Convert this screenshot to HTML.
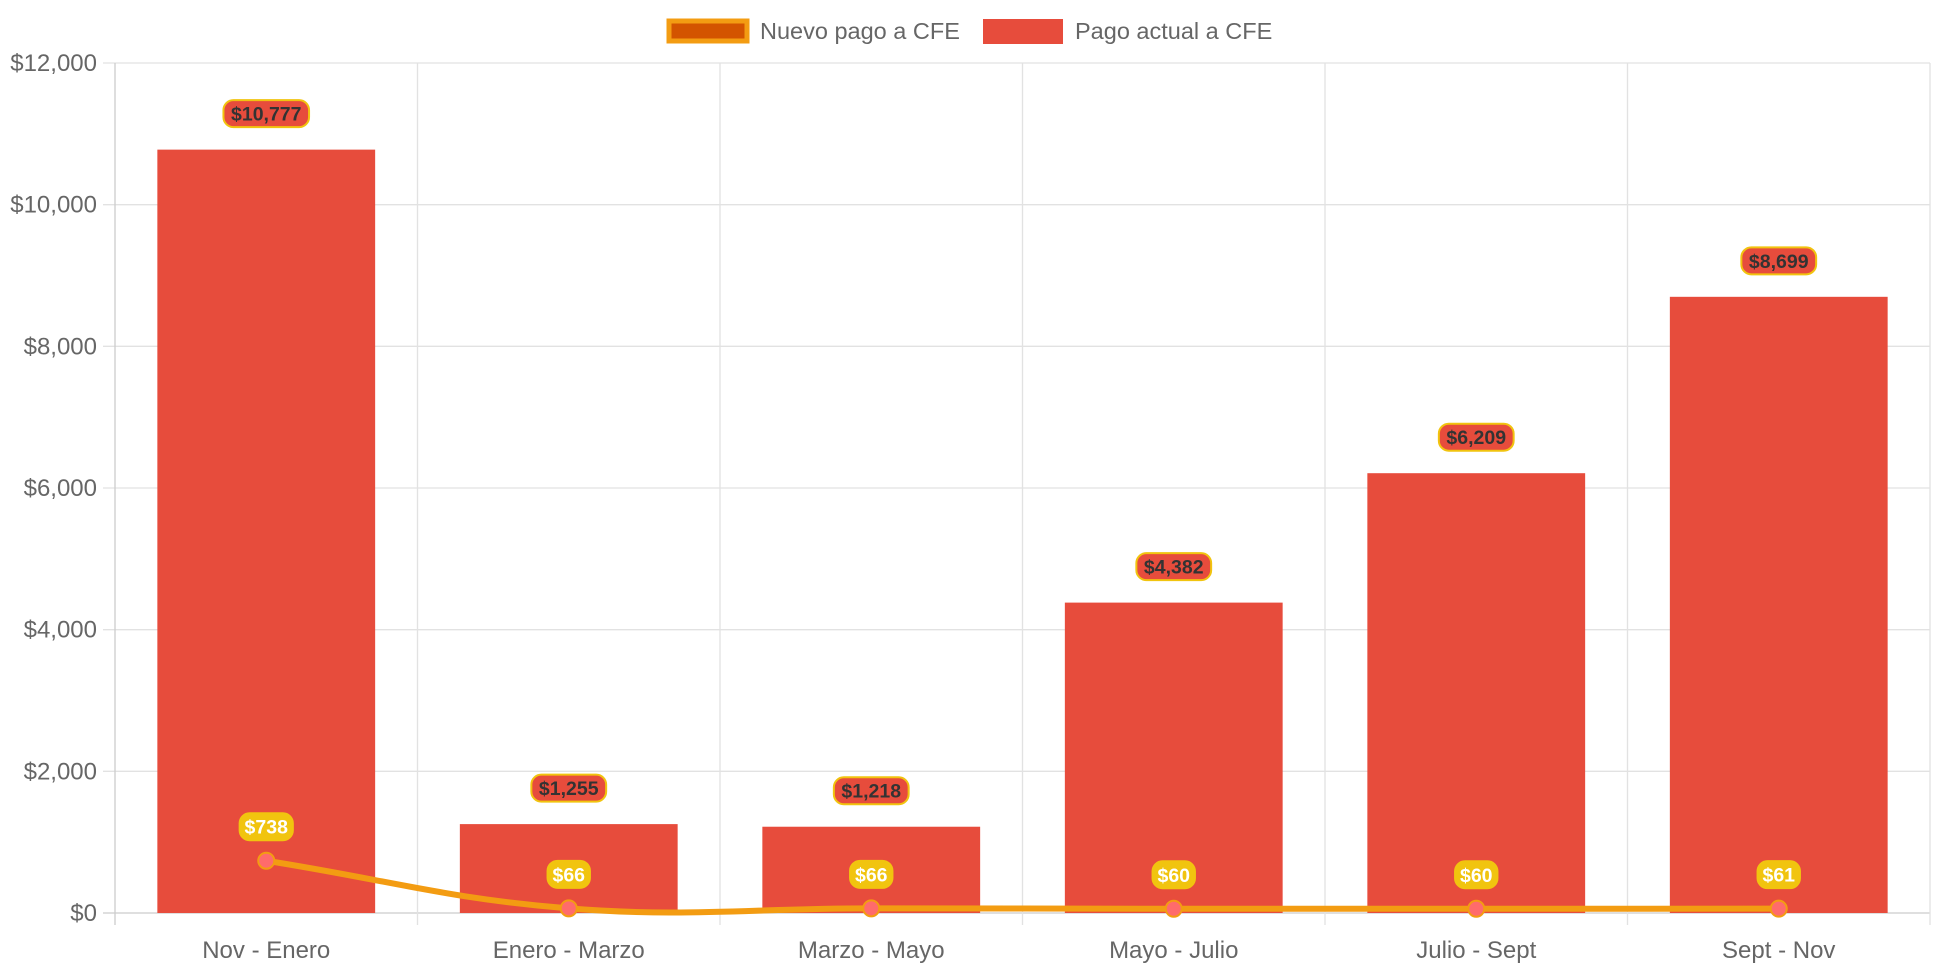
<!DOCTYPE html>
<html><head><meta charset="utf-8"><style>
html,body{margin:0;padding:0;background:#fff;}
svg{display:block;font-family:"Liberation Sans",Arial,sans-serif;}
</style></head><body>
<svg id="chart" width="1942" height="970"></svg>
<script>
const categories=["Nov - Enero","Enero - Marzo","Marzo - Mayo","Mayo - Julio","Julio - Sept","Sept - Nov"];
const currentPay=[10777,1255,1218,4382,6209,8699];
const newPay=[738,66,66,60,60,61];
const yTicks=[0,2000,4000,6000,8000,10000,12000];

const svg=document.getElementById('chart');
const NS='http://www.w3.org/2000/svg';
const L=115,R=1930,T=63,B=913,yMax=12000;
const cw=(R-L)/categories.length;
const xC=i=>L+cw*(i+0.5);
const y=v=>B-(v/yMax)*(B-T);
const fmt=v=>'$'+v.toLocaleString('en-US');
function mk(tag,attrs,parent){const e=document.createElementNS(NS,tag);for(const k in attrs)e.setAttribute(k,attrs[k]);(parent||svg).appendChild(e);return e;}

// grid
const grid=mk('g',{});


yTicks.forEach(t=>{
  mk('line',{x1:L-12,x2:R,y1:y(t),y2:y(t),stroke:t===0?'#ccc':'#e2e2e2','stroke-width':1.3},grid);
  const tx=mk('text',{x:L-18,y:y(t)+8,'text-anchor':'end','font-size':24,fill:'#666'});
  tx.textContent=fmt(t);
  
  
});
for(let i=0;i<=categories.length;i++){
  const x=L+cw*i;
  mk('line',{x1:x,x2:x,y1:T,y2:B+12,stroke:i===0?'#ccc':'#e2e2e2','stroke-width':1.3},grid);
}
categories.forEach((c,i)=>{
  const tx=mk('text',{x:xC(i),y:958,'text-anchor':'middle','font-size':24,fill:'#666'});
  tx.textContent=c;
  
  
});

// bars
const bw=cw*0.72;
currentPay.forEach((v,i)=>{
  const r=mk('rect',{x:xC(i)-bw/2,y:y(v),width:bw,height:B-y(v),fill:'#e74c3c'});
  
  
});

// line (chart.js style spline, tension 0.4)
const pts=newPay.map((v,i)=>({x:xC(i),y:y(v)}));
let d='M'+pts[0].x+','+pts[0].y;
const tension=0.4;
function ctrl(p0,p1,p2){
  const d01=Math.hypot(p1.x-p0.x,p1.y-p0.y),d12=Math.hypot(p2.x-p1.x,p2.y-p1.y);
  const fa=tension*d01/(d01+d12),fb=tension*d12/(d01+d12);
  return {prev:{x:p1.x-fa*(p2.x-p0.x),y:p1.y-fa*(p2.y-p0.y)},next:{x:p1.x+fb*(p2.x-p0.x),y:p1.y+fb*(p2.y-p0.y)}};
}
const cps=pts.map((p,i)=>ctrl(pts[Math.max(0,i-1)],p,pts[Math.min(pts.length-1,i+1)]));
for(let i=1;i<pts.length;i++){
  d+=` C${cps[i-1].next.x},${cps[i-1].next.y} ${cps[i].prev.x},${cps[i].prev.y} ${pts[i].x},${pts[i].y}`;
}
const ln=mk('path',{d:d,fill:'none',stroke:'#f39c12','stroke-width':6});


pts.forEach((p,i)=>{
  const c=mk('circle',{cx:p.x,cy:p.y,r:8,fill:'#ff6b6b',stroke:'#f39c12','stroke-width':2});
  
  
});

// labels
function label(cx,cy,text,fill,stroke,color,name){
  const g=mk('g',{});
  
  
  const w=text.length*10.8+10,h=27;
  mk('rect',{x:cx-w/2,y:cy-h/2,width:w,height:h,rx:10,fill:fill,stroke:stroke,'stroke-width':2},g);
  const t=mk('text',{x:cx,y:cy+7,'text-anchor':'middle','font-size':19.5,'font-weight':'bold',fill:color},g);
  t.textContent=text;
}
currentPay.forEach((v,i)=>label(xC(i),y(v)-36,fmt(v),'#e74c3c','#f1c40f','#333','bar-value-label'));
newPay.forEach((v,i)=>label(xC(i),y(v)-34,fmt(v),'#f1c40f','#f1c40f','#fff','line-value-label'));

// legend
const lg=mk('g',{});


const e1=mk('g',{},lg);


mk('rect',{x:669,y:21,width:78,height:20,fill:'#d35400',stroke:'#f39c12','stroke-width':5},e1);
const t1=mk('text',{x:760,y:39,'font-size':23.5,fill:'#666'},e1);t1.textContent='Nuevo pago a CFE';
const e2=mk('g',{},lg);


mk('rect',{x:983,y:19,width:80,height:25,fill:'#e74c3c'},e2);
const t2=mk('text',{x:1075,y:39,'font-size':23.5,fill:'#666'},e2);t2.textContent='Pago actual a CFE';
</script>
</body></html>
